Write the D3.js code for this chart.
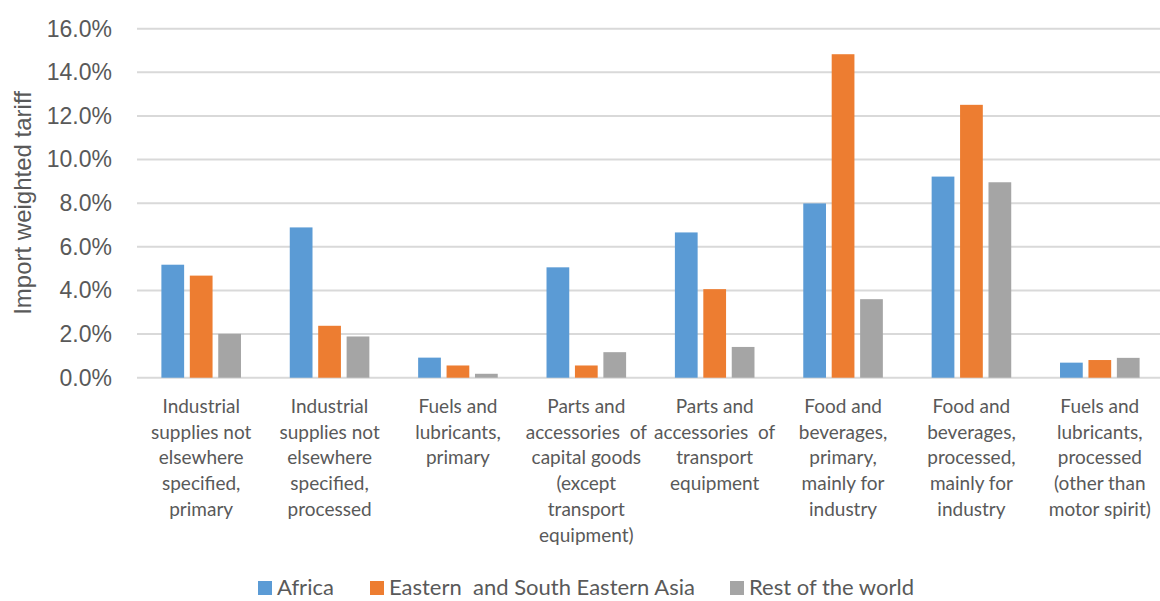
<!DOCTYPE html>
<html>
<head>
<meta charset="utf-8">
<script src="https://cdn.jsdelivr.net/npm/d3@7"></script>
<style>
  html, body { margin: 0; padding: 0; background: #ffffff; }
  svg { display: block; }
</style>
</head>
<body>
<svg id="chart" width="1160" height="601"></svg>
<script>
// Product categories (each entry is a list of label lines)
const categories = [
  ["Industrial", "supplies not", "elsewhere", "specified,", "primary"],
  ["Industrial", "supplies not", "elsewhere", "specified,", "processed"],
  ["Fuels and", "lubricants,", "primary"],
  ["Parts and", "accessories  of", "capital goods", "(except", "transport", "equipment)"],
  ["Parts and", "accessories  of", "transport", "equipment"],
  ["Food and", "beverages,", "primary,", "mainly for", "industry"],
  ["Food and", "beverages,", "processed,", "mainly for", "industry"],
  ["Fuels and", "lubricants,", "processed", "(other than", "motor spirit)"]
];

const seriesNames = ["Africa", "Eastern  and South Eastern Asia", "Rest of the world"];
const seriesColors = ["#5b9bd5", "#ed7d31", "#a5a5a5"];

// Import weighted tariff, as a fraction
const africa      = [0.0518, 0.0689, 0.0092, 0.0506, 0.0666, 0.0799, 0.0922, 0.0069];
const eastAsia    = [0.0468, 0.0238, 0.0056, 0.0056, 0.0406, 0.1483, 0.1251, 0.0081];
const restOfWorld = [0.0201, 0.0189, 0.0018, 0.0117, 0.0141, 0.0360, 0.0896, 0.0091];

const yTicks = [0, 0.02, 0.04, 0.06, 0.08, 0.10, 0.12, 0.14, 0.16];

const seriesValues = [africa, eastAsia, restOfWorld];
const catIndex = d3.range(categories.length);

const svg = d3.select("#chart");
const textColor = "#595959";

const x0 = d3.scaleBand()
  .domain(catIndex)
  .range([137, 1164])
  .paddingInner(0.38)
  .paddingOuter(0.19);

const x1 = d3.scaleBand()
  .domain(d3.range(seriesNames.length))
  .range([0, x0.bandwidth()])
  .paddingInner(0.2);

const y = d3.scaleLinear()
  .domain([0, 0.16])
  .range([377.7, 28.7]);

// Horizontal gridlines
svg.append("g")
  .selectAll("line")
  .data(yTicks)
  .join("line")
  .attr("x1", 137)
  .attr("x2", 1160)
  .attr("y1", d => y(d))
  .attr("y2", d => y(d))
  .attr("stroke", "#d9d9d9")
  .attr("stroke-width", 2);

// Y axis tick labels
const yAxis = d3.axisLeft(y)
  .tickValues(yTicks)
  .tickFormat(d3.format(".1%"))
  .tickSize(0)
  .tickPadding(0);

const yAxisG = svg.append("g")
  .attr("transform", "translate(112,0)")
  .call(yAxis);
yAxisG.select(".domain").remove();
yAxisG.selectAll("text")
  .attr("fill", textColor)
  .attr("font-family", "'Liberation Sans', Arial, sans-serif")
  .attr("font-size", 23);

// Y axis title
svg.append("text")
  .attr("transform", "translate(31,203) rotate(-90)")
  .attr("text-anchor", "middle")
  .attr("fill", textColor)
  .attr("font-family", "'Liberation Sans', Arial, sans-serif")
  .attr("font-size", 24)
  .text("Import weighted tariff");

// Bars
const groups = svg.append("g")
  .selectAll("g")
  .data(catIndex)
  .join("g")
  .attr("transform", i => `translate(${x0(i)},0)`);

groups.selectAll("rect")
  .data(i => seriesValues.map((vals, s) => ({ s, v: vals[i] })))
  .join("rect")
  .attr("x", d => x1(d.s))
  .attr("width", x1.bandwidth())
  .attr("y", d => y(d.v))
  .attr("height", d => y(0) - y(d.v))
  .attr("fill", d => seriesColors[d.s]);

// Category labels
const labelFont = "Lato, 'Open Sans', sans-serif";
const catLabels = svg.append("g")
  .selectAll("text")
  .data(catIndex)
  .join("text")
  .attr("x", i => x0(i) + x0.bandwidth() / 2)
  .attr("y", 413)
  .attr("text-anchor", "middle")
  .attr("fill", textColor)
  .attr("font-family", labelFont)
  .attr("font-size", 19)
  .style("white-space", "pre");

catLabels.selectAll("tspan")
  .data(i => categories[i].map((line, k) => ({ line, k, i })))
  .join("tspan")
  .attr("x", d => x0(d.i) + x0.bandwidth() / 2)
  .attr("dy", d => d.k === 0 ? 0 : 25.7)
  .text(d => d.line);

// Legend
const legendX = [258, 370, 730];
const legend = svg.append("g")
  .selectAll("g")
  .data(seriesNames.map((name, s) => ({ name, s })))
  .join("g")
  .attr("transform", d => `translate(${legendX[d.s]},581)`);

legend.append("rect")
  .attr("width", 14)
  .attr("height", 14)
  .attr("fill", d => seriesColors[d.s]);

legend.append("text")
  .attr("x", 19)
  .attr("y", 14)
  .attr("fill", textColor)
  .attr("font-family", labelFont)
  .attr("font-size", 22)
  .style("white-space", "pre")
  .text(d => d.name);
</script>
</body>
</html>
